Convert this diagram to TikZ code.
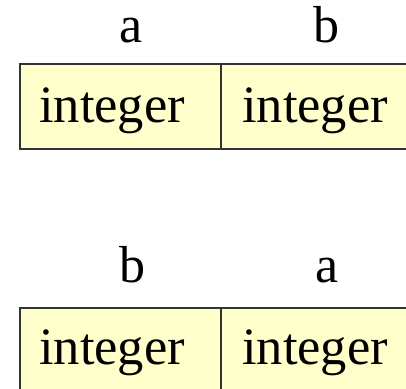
\documentclass[tikz,border=0pt]{standalone}
\usepackage{fontspec}
\setmainfont{Liberation Serif}
\definecolor{cellfill}{HTML}{FFFFCC}
\definecolor{cellline}{HTML}{333333}
\begin{document}
\begin{tikzpicture}[x=1pt,y=1pt,
  cell/.style={draw=cellline,line width=1.6pt,fill=cellfill,minimum width=201pt,minimum height=85pt,inner sep=0pt,outer sep=0pt},
  celltext/.style={anchor=base west,inner sep=0pt,font=\fontsize{52.5}{60}\selectfont},
  varname/.style={anchor=base,inner sep=0pt,font=\fontsize{52}{60}\selectfont}]
\useasboundingbox (0,0) rectangle (406,-388);
\clip (0,0) rectangle (406,-388);
% top row
\node[cell] (t1) at (120.5,-106.5) {};
\node[cell] (t2) at (321.5,-106.5) {};
\node[celltext] (t1txt) at (39,-122) {integer};
\node[celltext] (t2txt) at (242,-122) {integer};
\node[varname] (ta) at (131.5,-42) {a};
\node[varname] (tb) at (326.5,-42) {b};
% bottom row
\node[cell] (b1) at (120.5,-350.5) {};
\node[cell] (b2) at (321.5,-350.5) {};
\node[celltext] (b1txt) at (39,-364) {integer};
\node[celltext] (b2txt) at (242,-364) {integer};
\node[varname] (bb) at (132.5,-282) {b};
\node[varname] (ba) at (327,-282) {a};
\end{tikzpicture}
\end{document}
